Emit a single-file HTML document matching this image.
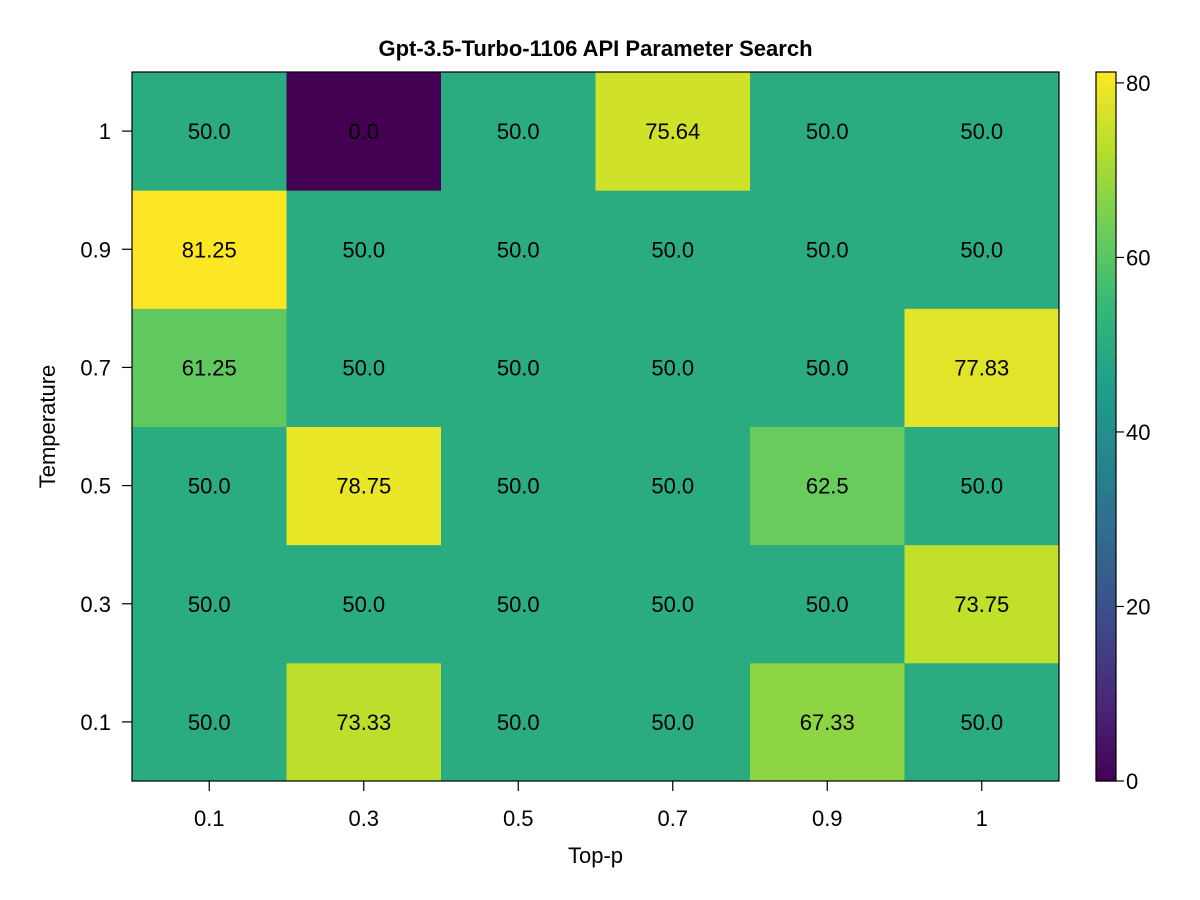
<!DOCTYPE html>
<html><head><meta charset="utf-8"><style>
html,body{margin:0;padding:0;background:#fff;}
svg{display:block;font-family:"Liberation Sans",sans-serif;}
</style></head><body>
<svg id="chart" width="1200" height="900">
<rect width="1200" height="900" fill="#fff"/>
</svg>
<script>
const topP = ["0.1","0.3","0.5","0.7","0.9","1"];
const temps = ["0.1","0.3","0.5","0.7","0.9","1"];
// values[row][col], row index follows temps (bottom to top)
const row01 = [50.0, 73.33, 50.0, 50.0, 67.33, 50.0];
const row03 = [50.0, 50.0, 50.0, 50.0, 50.0, 73.75];
const row05 = [50.0, 78.75, 50.0, 50.0, 62.5, 50.0];
const row07 = [61.25, 50.0, 50.0, 50.0, 50.0, 77.83];
const row09 = [81.25, 50.0, 50.0, 50.0, 50.0, 50.0];
const row10 = [50.0, 0.0, 50.0, 75.64, 50.0, 50.0];
const labels01 = ["50.0","73.33","50.0","50.0","67.33","50.0"];
const labels03 = ["50.0","50.0","50.0","50.0","50.0","73.75"];
const labels05 = ["50.0","78.75","50.0","50.0","62.5","50.0"];
const labels07 = ["61.25","50.0","50.0","50.0","50.0","77.83"];
const labels09 = ["81.25","50.0","50.0","50.0","50.0","50.0"];
const labels10 = ["50.0","0.0","50.0","75.64","50.0","50.0"];
const cbTicks = [0,20,40,60,80];
const values = [row01,row03,row05,row07,row09,row10];
const labels = [labels01,labels03,labels05,labels07,labels09,labels10];

const NS="http://www.w3.org/2000/svg";
const svg=document.getElementById('chart');
const L=132,R=1059,T=72,B=781;
const all=values.flat();
const vmin=Math.min(...all), vmax=Math.max(...all);
const cw=(R-L)/topP.length, ch=(B-T)/temps.length;
const xc=i=>L+cw*(i+0.5);
const yc=j=>B-ch*(j+0.5);
const stops=[[68,1,84],[72,40,120],[62,74,137],[49,104,142],[38,130,142],[31,158,137],[53,183,121],[109,205,89],[180,222,44],[253,231,37]];
function viridis(t){t=Math.max(0,Math.min(1,t));const p=t*(stops.length-1);const i=Math.min(Math.floor(p),stops.length-2);const f=p-i;
const c=stops[i].map((v,k)=>Math.round(v+(stops[i+1][k]-v)*f));return `rgb(${c[0]},${c[1]},${c[2]})`;}
function mk(tag,attrs,text){const e=document.createElementNS(NS,tag);for(const k in attrs)e.setAttribute(k,attrs[k]);if(text!==undefined)e.textContent=text;svg.appendChild(e);return e;}

values.forEach((row,j)=>row.forEach((v,i)=>{
  const r=mk('rect',{x:L+cw*i,y:B-ch*(j+1),width:cw+0.5,height:ch+0.5,fill:viridis((v-vmin)/(vmax-vmin))});
  
  
  const t=mk('text',{x:xc(i),y:yc(j)+8,'text-anchor':'middle','font-size':22,fill:'#000'},labels[j][i]);
  
  
}));
const frame=mk('rect',{x:L,y:T,width:R-L,height:B-T,fill:'none',stroke:'#000','stroke-width':1.2});


topP.forEach((lab,i)=>{
  mk('line',{x1:xc(i),x2:xc(i),y1:B,y2:B+10,stroke:'#000','stroke-width':1.2});
  const t=mk('text',{x:xc(i),y:826,'text-anchor':'middle','font-size':22},lab);
  
  
});
temps.forEach((lab,j)=>{
  mk('line',{x1:L-10,x2:L,y1:yc(j),y2:yc(j),stroke:'#000','stroke-width':1.2});
  const t=mk('text',{x:L-21,y:yc(j)+8,'text-anchor':'end','font-size':22},lab);
  
  
});
const xt=mk('text',{x:(L+R)/2,y:863,'text-anchor':'middle','font-size':22},'Top-p');


const yt=mk('text',{x:0,y:0,'text-anchor':'middle','font-size':22,transform:`translate(55,${(T+B)/2}) rotate(-90)`},'Temperature');


const tt=mk('text',{x:(L+R)/2,y:56,'text-anchor':'middle','font-size':22,'font-weight':'bold'},'Gpt-3.5-Turbo-1106 API Parameter Search');


// colorbar
const CX=1096,CW=20,N=200;
for(let k=0;k<N;k++){
  const r=mk('rect',{x:CX,y:B-(k+1)*(B-T)/N,width:CW,height:(B-T)/N+0.6,fill:viridis((k+0.5)/N)});
  
  
}
const cf=mk('rect',{x:CX,y:T,width:CW,height:B-T,fill:'none',stroke:'#000','stroke-width':1.2});


cbTicks.forEach(v=>{
  const y=B-(v-vmin)/(vmax-vmin)*(B-T);
  mk('line',{x1:CX+CW,x2:CX+CW+8,y1:y,y2:y,stroke:'#000','stroke-width':1.2});
  const t=mk('text',{x:CX+CW+10,y:y+8,'font-size':22},String(v));
  
  
});
</script>
</body></html>
